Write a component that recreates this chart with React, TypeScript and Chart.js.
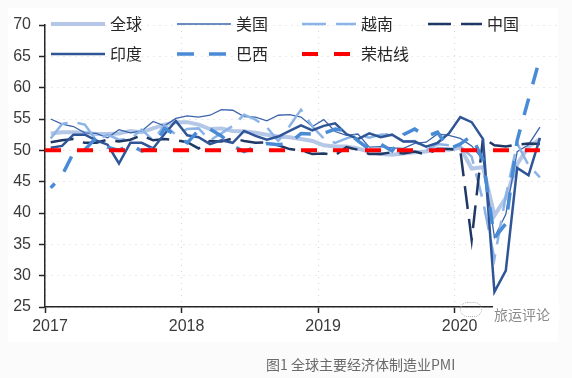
import React, { useEffect, useRef } from "react";
import { Chart, registerables } from "chart.js";

Chart.register(...registerables);

const startYear = 2017;
const monthsOnAxis = 45;
const yTicks = { min: 25, max: 70, step: 5 };
const global = [52.7,52.9,52.9,52.8,52.6,52.6,52.7,53.1,52.9,53.5,54.1,54.5,54.5,54.1,53.4,53.5,53.1,53,52.8,52.5,52.2,52.1,51.8,51.5,50.8,50.6,50.6,50.3,49.8,49.4,49.3,49.5,49.7,49.8,50.3,50.1,50.4,47.1,47.3,39.6,42.4,47.8,50.6,51.8];
const usa = [55,54.2,53.8,52.8,52.7,52,53.3,52.8,53.1,54.6,53.9,55.1,55.5,55.3,55.6,56.5,56.4,55.4,55.3,54.7,55.6,55.7,55.3,53.8,54.9,53,52.4,52.6,50.5,50.6,50.4,50.3,51.1,51.3,52.6,52.4,51.9,50.7,48.5,36.1,39.8,49.8,50.9,53.7];
const vietnam = [51.9,54.2,54.5,54.1,51.6,52.5,51.7,51.8,53.3,51.6,54,52.5,53.4,53.5,51.6,52.7,53.9,55.7,54.9,53.7,51.5,53.9,56.5,53.8,51.9,51.2,51.9,52.5,52,52.5,52.6,51.4,51.5,50,51,50.8,50.6,49,41.9,32.7,42.7,51.1,47.6,45.7];
const china = [51.3,51.6,51.8,51.2,51.2,51.7,51.4,51.7,52.4,51.6,51.8,51.6,51.3,50.3,51.5,51.4,51.9,51.5,51.2,51.3,50.8,50.2,50,49.4,49.5,49.2,50.5,50.1,49.4,49.4,49.7,49.5,49.8,49.3,50.2,50.2,50,35.7,52,50.8,50.6,50.9,51.1,51];
const india = [50.4,50.7,52.5,52.5,51.6,50.9,47.9,51.2,51.2,50.3,52.6,54.7,52.4,52.1,51,51.6,51.2,53.1,52.3,51.7,52.2,53.1,54,53.2,53.9,54.3,52.6,51.8,52.7,52.1,52.5,51.4,51.4,50.6,51.2,52.7,55.3,54.5,51.8,27.4,30.8,47.2,46,52];
const brazil = [44,46,49.6,50.1,52,50.5,50,50.9,49.9,50.3,53.5,52.4,51.2,53.2,53.4,52.3,50.7,49.8,50.5,51.1,50.9,51.1,52.7,52.6,52.7,53.4,53.1,51.5,50.2,51,49.9,52.5,53.4,52.2,52.9,50.2,51,52.3,48.4,36,38.3,51.6,58.2,64.7];
const boomBustLevel = 50;
const names = ["全球", "美国", "越南", "中国", "印度", "巴西", "荣枯线"];
const caption = "图1 全球主要经济体制造业PMI";
const watermark = "旅运评论";

const FONT = '"Liberation Sans", Arial, sans-serif';
const CJK = '"Noto Sans CJK SC", sans-serif';

// Each month sits in the middle of its slot, between two tick marks.
const toPoints = (values: number[]) => values.map((y, i) => ({ x: i + 0.5, y }));
const boomBustPoints = [{ x: 0, y: boomBustLevel }, { x: global.length - 0.5, y: boomBustLevel }];

const legendColumns = [51, 177, 302, 428];
const legendRows = [24, 54];
const legendPlugin = {
  id: "gridLegend",
  afterDraw(chart: any) {
    const { ctx } = chart;
    chart.data.datasets.forEach((ds: any, i: number) => {
      const x = legendColumns[i % 4];
      const y = legendRows[Math.floor(i / 4)];
      ctx.save();
      ctx.beginPath();
      ctx.strokeStyle = ds.borderColor;
      ctx.lineWidth = ds.borderWidth;
      ctx.setLineDash(ds.borderDash || []);
      ctx.moveTo(x, y);
      ctx.lineTo(x + 54, y);
      ctx.stroke();
      ctx.setLineDash([]);
      ctx.fillStyle = "#262626";
      ctx.font = `16px ${CJK}`;
      ctx.textBaseline = "middle";
      ctx.textAlign = "left";
      ctx.fillText(ds.label, x + 59, y);
      ctx.restore();
    });
  },
};

export default function App() {
  const ref = useRef<HTMLCanvasElement>(null);
  useEffect(() => {
    const line = (i: number, data: any[], color: string, width: number, dash: number[] = [], dashOffset = 0) => ({
      label: names[i],
      data,
      borderColor: color,
      borderWidth: width,
      borderDash: dash,
      borderDashOffset: dashOffset,
      pointRadius: 0,
      tension: 0,
      order: 7 - i,
    });
    const chart = new Chart(ref.current!, {
      type: "line",
      data: {
        datasets: [
          line(0, toPoints(global), "#b4c7e7", 4),
          line(1, toPoints(usa), "#3b64ad", 1.3),
          line(2, toPoints(vietnam), "#8db4e6", 2.5, [24, 10]),
          line(3, toPoints(china), "#203864", 2.5, [23, 10]),
          line(4, toPoints(india), "#2f5597", 2.5),
          line(5, toPoints(brazil), "#4a8bd6", 3.5, [17, 15], 11),
          line(6, boomBustPoints, "#ff0000", 4, [16, 16]),
        ],
      },
      options: {
        animation: false,
        responsive: false,
        layout: { padding: { top: 25, right: 15, left: 0, bottom: 0 } },
        plugins: { legend: { display: false }, tooltip: { enabled: false } },
        scales: {
          x: {
            type: "linear",
            min: 0,
            max: monthsOnAxis,
            afterFit: (s: any) => { s.height = 71; },
            afterBuildTicks: (s: any) => {
              s.ticks = s.ticks.filter((t: any) => t.value % 12 === 0);
            },
            ticks: {
              stepSize: 12,
              autoSkip: false,
              maxRotation: 0,
              padding: 4,
              labelOffset: 5,
              color: "#3a3a3a",
              font: { family: FONT, size: 16 },
              callback: (v: any) => String(startYear + Number(v) / 12),
            },
            grid: { color: "#d5d5d5", tickColor: "#262626", tickLength: 6, tickBorderDash: [], tickWidth: 1.5 },
            border: { color: "#262626", width: 1.5, dash: [1, 5] },
          },
          y: {
            min: yTicks.min,
            max: yTicks.max,
            afterFit: (s: any) => { s.width = 45; },
            ticks: {
              stepSize: yTicks.step,
              padding: 8,
              color: "#3a3a3a",
              font: { family: FONT, size: 16 },
            },
            grid: { color: "#d5d5d5", tickColor: "#262626", tickLength: 6, tickBorderDash: [], tickWidth: 1.5 },
            border: { color: "#262626", width: 1.5, dash: [1, 5] },
          },
        },
      } as any,
      plugins: [legendPlugin],
    } as any);
    return () => chart.destroy();
  }, []);

  return (
    <div style={{ position: "fixed", left: 0, top: 0, width: 572, height: 378, background: "#fbfbfb", overflow: "hidden", filter: "blur(0.35px)" }}>
      <div style={{ position: "absolute", left: 8, top: 8, width: 550, height: 334, background: "#ffffff" }} />
      <canvas ref={ref} width={572} height={378} style={{ position: "absolute", left: 0, top: 0, width: 572, height: 378 }} />
      <div style={{ position: "absolute", left: 493, top: 303, width: 66, height: 22, background: "#ffffff" }} />
      <div style={{ position: "absolute", left: 460, top: 302, width: 20, height: 13, borderRadius: 8, border: "1px dotted #b5b5b5" }} />
      <div style={{ position: "absolute", left: 494, top: 304, fontFamily: CJK, fontSize: 14, lineHeight: "20px", color: "#8a8a8a", whiteSpace: "nowrap" }}>{watermark}</div>
      <div style={{ position: "absolute", left: 266, top: 354, fontFamily: CJK, fontSize: 14, lineHeight: "20px", color: "#6a6a6a", whiteSpace: "nowrap" }}>{caption}</div>
    </div>
  );
}
